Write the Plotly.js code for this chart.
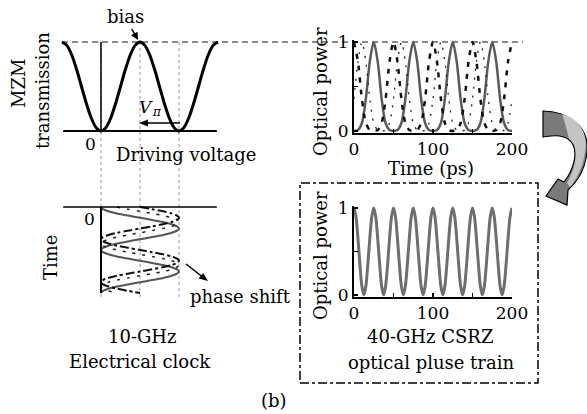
<!DOCTYPE html>
<html><head><meta charset="utf-8">
<script src="https://cdn.plot.ly/plotly-3.0.1.min.js"></script>
<style>html,body{margin:0;padding:0;background:#fff}#chart{width:587px;height:414px}</style>
</head><body><div id="chart"></div>
<script>
// ---- data ----
const voltage=[-1,-0.875,-0.75,-0.625,-0.5,-0.375,-0.25,-0.125,0,0.125,0.25,0.375,0.5,0.625,0.75,0.875,1,1.125,1.25,1.375,1.5,1.625,1.75,1.875,2,2.125,2.25,2.375,2.5,2.625,2.75,2.875,3];
const transmission=[1,0.962,0.854,0.691,0.5,0.309,0.146,0.038,0,0.038,0.146,0.309,0.5,0.691,0.854,0.962,1,0.962,0.854,0.691,0.5,0.309,0.146,0.038,0,0.038,0.146,0.309,0.5,0.691,0.854,0.962,1];

const timePs=[0,5,10,15,20,25,30,35,40,45,50,55,60,65,70,75,80,85,90,95,100,105,110,115,120,125,130,135,140,145,150,155,160,165,170,175,180,185,190,195,200];
const powerSolid=[0,0.01,0.09,0.36,0.78,1,0.78,0.36,0.09,0.01,0,0.01,0.09,0.36,0.78,1,0.78,0.36,0.09,0.01,0,0.01,0.09,0.36,0.78,1,0.78,0.36,0.09,0.01,0,0.01,0.09,0.36,0.78,1,0.78,0.36,0.09,0.01,0];
const powerDash=[1,0.78,0.36,0.09,0.01,0,0.01,0.09,0.36,0.78,1,0.78,0.36,0.09,0.01,0,0.01,0.09,0.36,0.78,1,0.78,0.36,0.09,0.01,0,0.01,0.09,0.36,0.78,1,0.78,0.36,0.09,0.01,0,0.01,0.09,0.36,0.78,1];
const powerDot=[0.36,0.78,1,0.78,0.36,0.09,0.01,0,0.01,0.09,0.36,0.78,1,0.78,0.36,0.09,0.01,0,0.01,0.09,0.36,0.78,1,0.78,0.36,0.09,0.01,0,0.01,0.09,0.36,0.78,1,0.78,0.36,0.09,0.01,0,0.01,0.09,0.36];

const clockSolidV=[0,0.05,0.19,0.41,0.69,1,1.31,1.59,1.81,1.95,2,1.95,1.81,1.59,1.31,1,0.69,0.41,0.19,0.05,0,0.05,0.19,0.41,0.69,1,1.31,1.59,1.81,1.95,2,1.95,1.81,1.59,1.31,1,0.69,0.41,0.19,0.05,0];
const clockDashDotV=[1,1.31,1.59,1.81,1.95,2,1.95,1.81,1.59,1.31,1,0.69,0.41,0.19,0.05,0,0.05,0.19,0.41,0.69,1,1.31,1.59,1.81,1.95,2,1.95,1.81,1.59,1.31,1,0.69,0.41,0.19,0.05,0,0.05,0.19,0.41,0.69,1];
const clockDashV=[0.41,0.69,1,1.31,1.59,1.81,1.95,2,1.95,1.81,1.59,1.31,1,0.69,0.41,0.19,0.05,0,0.05,0.19,0.41,0.69,1,1.31,1.59,1.81,1.95,2,1.95,1.81,1.59,1.31,1,0.69,0.41,0.19,0.05,0,0.05,0.19,0.41];

const csrzTime=[0,2.5,5,7.5,10,12.5,15,17.5,20,22.5,25,27.5,30,32.5,35,37.5,40,42.5,45,47.5,50,52.5,55,57.5,60,62.5,65,67.5,70,72.5,75,77.5,80,82.5,85,87.5,90,92.5,95,97.5,100,102.5,105,107.5,110,112.5,115,117.5,120,122.5,125,127.5,130,132.5,135,137.5,140,142.5,145,147.5,150,152.5,155,157.5,160,162.5,165,167.5,170,172.5,175,177.5,180,182.5,185,187.5,190,192.5,195,197.5,200];
const csrzPower=[1,0.9,0.65,0.35,0.1,0,0.1,0.35,0.65,0.9,1,0.9,0.65,0.35,0.1,0,0.1,0.35,0.65,0.9,1,0.9,0.65,0.35,0.1,0,0.1,0.35,0.65,0.9,1,0.9,0.65,0.35,0.1,0,0.1,0.35,0.65,0.9,1,0.9,0.65,0.35,0.1,0,0.1,0.35,0.65,0.9,1,0.9,0.65,0.35,0.1,0,0.1,0.35,0.65,0.9,1,0.9,0.65,0.35,0.1,0,0.1,0.35,0.65,0.9,1,0.9,0.65,0.35,0.1,0,0.1,0.35,0.65,0.9,1];

const timeTickVals=[0,100,200];
const timeMinorVals=[50,150];
const powerTickVals=[0,1];
const powerMinorVals=[0.5];

// ---- layout helpers (pixel -> paper) ----
const W=587,H=414,F='DejaVu Serif';
const px=x=>x/W, py=y=>1-y/H;
function xDom(p0,p1,v0,v1,lo,hi){const k=(p1-p0)/(v1-v0);return [(p0+(lo-v0)*k)/W,(p0+(hi-v0)*k)/W];}
function yDom(p0,p1,v0,v1,lo,hi){const k=(p1-p0)/(v1-v0);const a=1-(p0+(lo-v0)*k)/H,b=1-(p0+(hi-v0)*k)/H;return [Math.min(a,b),Math.max(a,b)];}
function path(pts){return pts.map(s=>{if(typeof s==='string')return s;return (s[0]/W).toFixed(5)+','+(1-s[1]/H).toFixed(5);}).join(' ');}

const hidden={visible:false,fixedrange:true};
const axStyle={showline:true,linecolor:'#000',linewidth:2,ticks:'inside',ticklen:4,tickwidth:1.5,tickcolor:'#000',tickmode:'array',
  showgrid:false,zeroline:false,fixedrange:true,tickfont:{family:F,size:17,color:'#000'}};
function minor(vals){return {tickmode:'array',tickvals:vals,ticks:'inside',ticklen:4,tickwidth:1.5,tickcolor:'#000',showgrid:false};}

const sp={shape:'spline',smoothing:0.8};
const traces=[
  {x:voltage,y:transmission,xaxis:'x',yaxis:'y',mode:'lines',line:Object.assign({color:'#000',width:3},sp),hoverinfo:'skip'},
  {x:timePs,y:powerSolid,xaxis:'x2',yaxis:'y2',mode:'lines',line:Object.assign({color:'#5a5a5a',width:2.5},sp),hoverinfo:'skip'},
  {x:timePs,y:powerDash,xaxis:'x2',yaxis:'y2',mode:'lines',line:Object.assign({color:'#111',width:2.5,dash:'5px,7px'},sp),hoverinfo:'skip'},
  {x:timePs,y:powerDot,xaxis:'x2',yaxis:'y2',mode:'lines',line:Object.assign({color:'#222',width:1.3,dash:'2px,7px'},sp),hoverinfo:'skip'},
  {x:csrzTime,y:csrzPower,xaxis:'x3',yaxis:'y3',mode:'lines',line:Object.assign({color:'#6e6e6e',width:3},sp),hoverinfo:'skip'},
  {x:clockSolidV,y:timePs,xaxis:'x4',yaxis:'y4',mode:'lines',line:Object.assign({color:'#555',width:2},sp),hoverinfo:'skip'},
  {x:clockDashDotV,y:timePs,xaxis:'x4',yaxis:'y4',mode:'lines',line:Object.assign({color:'#111',width:2,dash:'dashdot'},sp),hoverinfo:'skip'},
  {x:clockDashV,y:timePs,xaxis:'x4',yaxis:'y4',mode:'lines',line:Object.assign({color:'#222',width:1.5,dash:'3px,7px'},sp),hoverinfo:'skip'}
];

function lab(text,x,y,size,angle){return {text:text,x:px(x),y:py(y),xref:'paper',yref:'paper',showarrow:false,
  xanchor:'center',yanchor:'middle',textangle:angle||0,font:{family:F,size:size||18,color:'#000'}};}

const annotations=[
  lab('MZM',18,84,18,-90),
  lab('transmission',43,91,18,-90),
  lab('0',90,144,17),
  lab('Driving voltage',186,154,18),
  lab('<i>V</i>',146,107,17),
  lab('<i>π</i>',157,112,12),
  lab('Optical power',320,92,18,-90),
  lab('Time (ps)',431,168,18),
  lab('Optical power',320,256,18,-90),
  lab('40-GHz CSRZ',430,336,18),
  lab('optical pluse train',431,362,18),
  lab('0',89,219,17),
  lab('Time',50,258,18,-90),
  lab('phase shift',240,296,18),
  lab('10-GHz',142,336,18),
  lab('Electrical clock',140,361,18),
  lab('(b)',274,400,18),
  {text:'bias',x:px(138),y:py(40),xref:'paper',yref:'paper',ax:-13,ay:-23,showarrow:true,arrowhead:2,arrowsize:1,arrowwidth:1.5,arrowcolor:'#000',standoff:0,
    font:{family:F,size:18,color:'#000'}}
];

const dottedV=[0,1,2].map(v=>({type:'line',xref:'x',yref:'paper',x0:v,x1:v,y0:py(42),y1:py(298),layer:'below',
  line:{color:'#9a9a9a',width:1,dash:'dot'}}));

const arrowPath=path(['M',[543,111],'C',[566,111],[590,125],[587,152],'C',[585,172],[575,184],[568,190],'L',[567,205],'L',[546,196],'L',[558,179],'L',[564,182],
  'C',[575,168],[580,147],[568,139],'C',[560,134],[550,136],[543,137],'Z']);
const arrowHi=path(['M',[562,114],'C',[578,118],[589,133],[585,152],'C',[583,168],[576,180],[570,187],'L',[567,183],'C',[576,168],[580,146],[569,139],'C',[566,126],[564,119],[562,114],'Z']);
const vpiHead=path(['M',[139,123],'L',[148,119.5],'L',[148,126.5],'Z']);
const phaseHead=path(['M',[208,281],'L',[198.6,278.6],'L',[203.2,273.0],'Z']);

const shapes=[
  ...dottedV,
  {type:'line',xref:'paper',yref:'paper',x0:px(62),x1:px(523),y0:py(42),y1:py(42),layer:'below',line:{color:'#8a8a8a',width:2,dash:'6px,4px'}},
  {type:'line',xref:'x',yref:'y',x0:-0.97,x1:2.97,y0:0,y1:0,line:{color:'#000',width:2}},
  {type:'line',xref:'x',yref:'y',x0:0,x1:0,y0:0,y1:1,line:{color:'#000',width:1.5}},
  {type:'line',xref:'x4',yref:'y4',x0:-0.97,x1:2.97,y0:0,y1:0,line:{color:'#000',width:1.5}},
  {type:'line',xref:'x4',yref:'y4',x0:0,x1:0,y0:0,y1:200,line:{color:'#000',width:2}},
  {type:'line',xref:'paper',yref:'paper',x0:px(180),x1:px(146),y0:py(123),y1:py(123),line:{color:'#000',width:1.5}},
  {type:'path',xref:'paper',yref:'paper',path:vpiHead,fillcolor:'#000',line:{width:0}},
  {type:'line',xref:'paper',yref:'paper',x0:px(186),x1:px(202),y0:py(264),y1:py(276.5),line:{color:'#000',width:1.5}},
  {type:'path',xref:'paper',yref:'paper',path:phaseHead,fillcolor:'#000',line:{width:0}},
  {type:'rect',xref:'paper',yref:'paper',x0:px(300),x1:px(538),y0:py(383),y1:py(183),line:{color:'#000',width:1.5,dash:'dashdot'}},
  {type:'path',xref:'paper',yref:'paper',path:arrowPath,fillcolor:'#7a7a7a',line:{color:'#000',width:1.2}},
  {type:'path',xref:'paper',yref:'paper',path:arrowHi,fillcolor:'#c4c4c4',line:{width:0}}
];

const layout={
  width:W,height:H,margin:{l:0,r:0,t:0,b:0},paper_bgcolor:'#fff',plot_bgcolor:'rgba(0,0,0,0)',showlegend:false,
  xaxis:Object.assign({domain:xDom(62,218,-1,3,-1.1,3.1),range:[-1.1,3.1],anchor:'y'},hidden),
  yaxis:Object.assign({domain:yDom(131,42,0,1,-0.05,1.05),range:[-0.05,1.05],anchor:'x'},hidden),
  xaxis2:Object.assign({domain:xDom(354,512,0,200,0,200),range:[0,200],anchor:'y2',tickvals:timeTickVals,minor:minor(timeMinorVals)},axStyle),
  yaxis2:Object.assign({domain:yDom(131,42,0,1,-0.02,1.02),range:[-0.02,1.02],anchor:'x2',tickvals:powerTickVals,minor:minor(powerMinorVals)},axStyle),
  xaxis3:Object.assign({domain:xDom(354,512,0,200,0,200),range:[0,200],anchor:'y3',tickvals:timeTickVals,minor:minor(timeMinorVals)},axStyle),
  yaxis3:Object.assign({domain:yDom(295,208,0,1,-0.02,1.02),range:[-0.02,1.02],anchor:'x3',tickvals:powerTickVals,minor:minor(powerMinorVals)},axStyle),
  xaxis4:Object.assign({domain:xDom(62,218,-1,3,-1.1,3.1),range:[-1.1,3.1],anchor:'y4'},hidden),
  yaxis4:Object.assign({domain:yDom(207,293,0,200,-10,210),range:[210,-10],anchor:'x4'},hidden),
  shapes:shapes,annotations:annotations
};
Plotly.newPlot('chart',traces,layout,{staticPlot:true,displayModeBar:false});
</script></body></html>
